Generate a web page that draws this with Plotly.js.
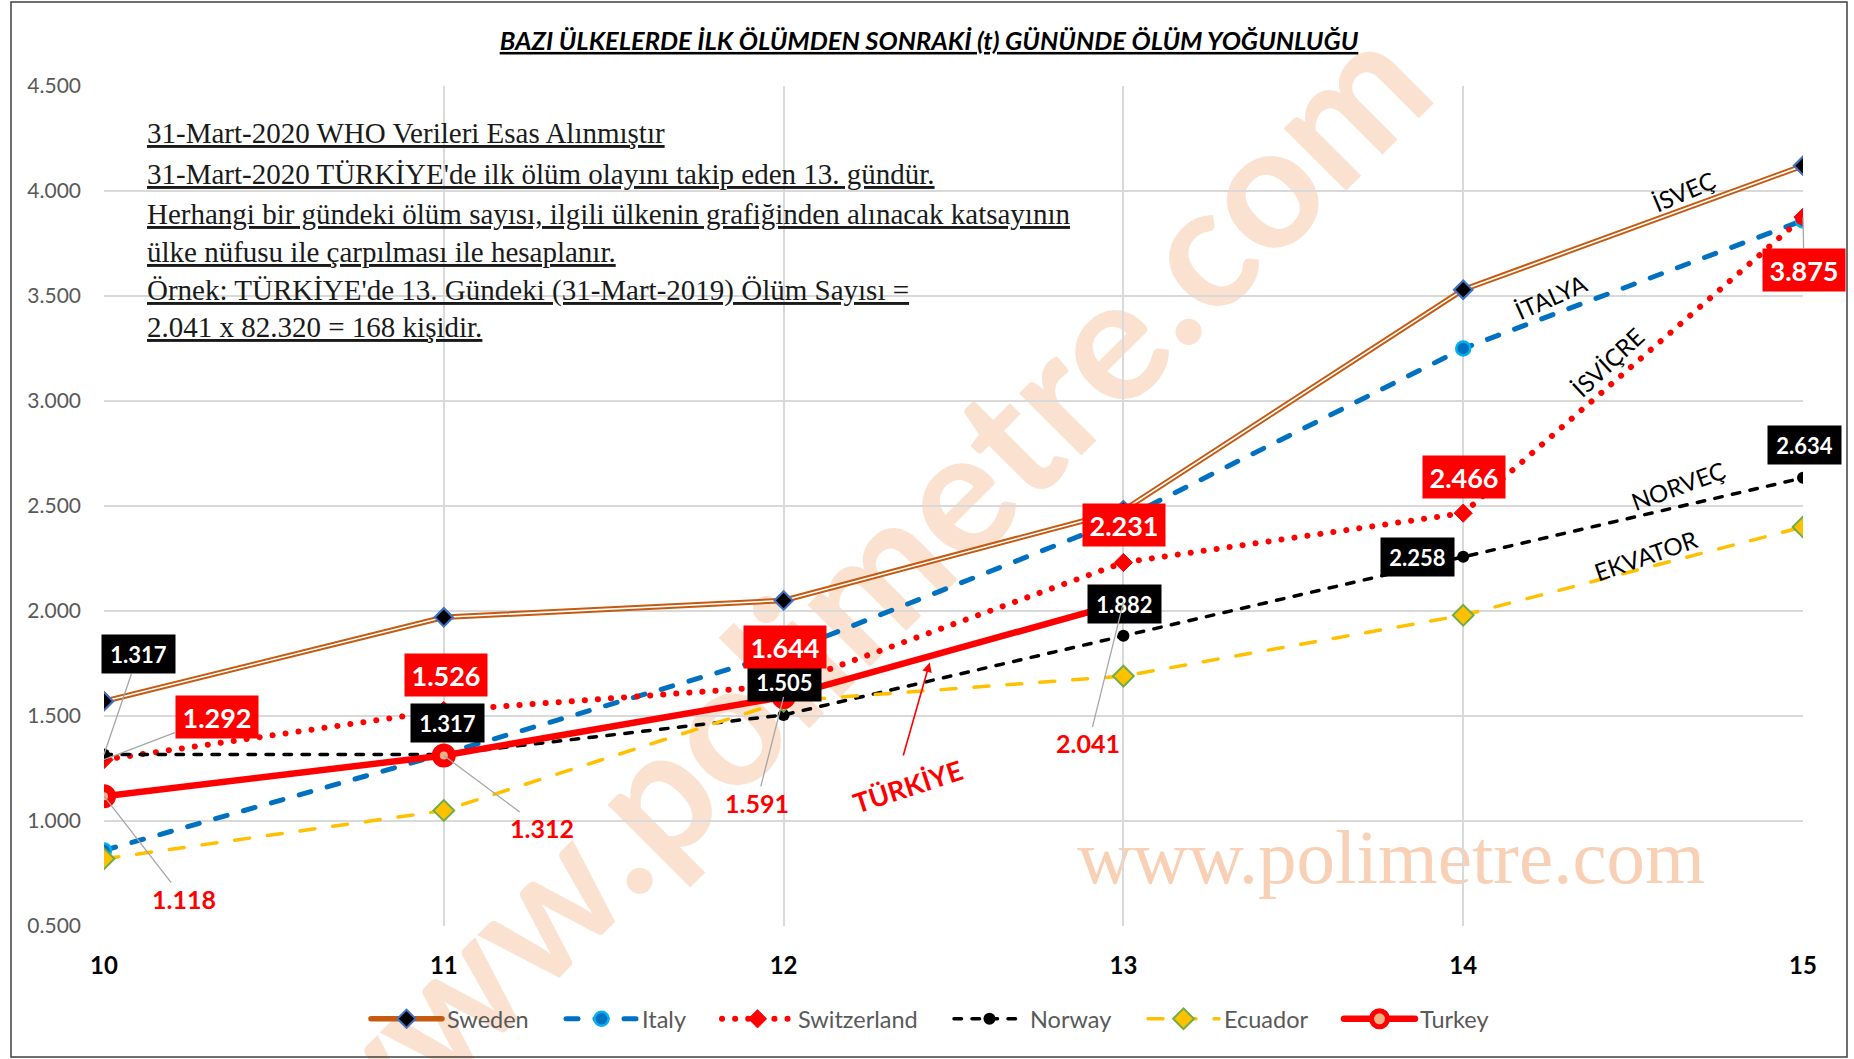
<!DOCTYPE html>
<html>
<head>
<meta charset="utf-8">
<script src="https://cdn.plot.ly/plotly-3.0.1.min.js"></script>
<style>
  html, body { margin:0; padding:0; background:#ffffff; }
  #wrap { position:relative; width:1854px; height:1059px; overflow:hidden; background:#ffffff; }
  .wm { position:absolute; white-space:nowrap; pointer-events:none; }
  #wmBig { left:845px; top:598px; transform:translate(-50%,-50%) rotate(-45deg);
           font-family:Lato, sans-serif; font-weight:700; font-size:172px; color:rgba(244,177,131,0.38); }
  #wmSmall { left:1391px; top:857px; transform:translate(-50%,-50%);
           font-family:'Liberation Serif', serif; font-size:77px; color:rgba(244,177,131,0.6); }
  #chart { position:absolute; left:0; top:0; width:1854px; height:1059px; }
  #chart .js-line { stroke-linecap: round; }
</style>
</head>
<body>
<div id="wrap">
  <div class="wm" id="wmBig">www.polimetre.com</div>
  <div class="wm" id="wmSmall">www.polimetre.com</div>
  <div id="chart"></div>
</div>
<script>
// ---------------- data ----------------
const days = [10, 11, 12, 13, 14, 15];
const xTickLabels = ['10', '11', '12', '13', '14', '15'];
const yTickValues = [0.5, 1.0, 1.5, 2.0, 2.5, 3.0, 3.5, 4.0, 4.5];
const yTickLabels = ['0.500', '1.000', '1.500', '2.000', '2.500', '3.000', '3.500', '4.000', '4.500'];

const sweden      = [1.57, 1.97, 2.05, 2.48, 3.53, 4.12];
const italy       = [0.86, 1.32, 1.80, 2.44, 3.25, 3.86];
const switzerland = [1.292, 1.526, 1.644, 2.231, 2.466, 3.875];
const norway      = [1.317, 1.317, 1.505, 1.882, 2.258, 2.634];
const ecuador     = [0.82, 1.05, 1.57, 1.69, 1.98, 2.40];
const turkeyDays  = [10, 11, 12, 13];
const turkey      = [1.118, 1.312, 1.591, 2.041];

const seriesNames = ['Sweden', 'Italy', 'Switzerland', 'Norway', 'Ecuador', 'Turkey'];

const noteLines = [
  "31-Mart-2020 WHO Verileri Esas Alınmıştır",
  "31-Mart-2020 TÜRKİYE'de ilk ölüm olayını takip eden 13. gündür.",
  "Herhangi bir gündeki ölüm sayısı, ilgili ülkenin grafiğinden alınacak katsayının",
  "ülke nüfusu ile çarpılması ile hesaplanır.",
  "Örnek: TÜRKİYE'de 13. Gündeki (31-Mart-2019) Ölüm Sayısı =",
  "2.041 x 82.320 = 168 kişidir."
];
const chartTitle = 'BAZI ÜLKELERDE İLK ÖLÜMDEN SONRAKİ (t) GÜNÜNDE ÖLÜM YOĞUNLUĞU';
const countryLabels = ['İSVEÇ', 'İTALYA', 'İSVİÇRE', 'NORVEÇ', 'EKVATOR'];
const turkeyLabel = 'TÜRKİYE';

// ---------------- layout helpers (positions / styles) ----------------
const PL = 104, PR = 1803, PT = 86, PB = 926;
const px2x = p => (p - PL) / (PR - PL);
const py2y = p => (PB - p) / (PB - PT);

// label offsets (pixels, from data point to label centre)
const norwayOff = [[34,-100],[4,-31],[1,-33],[1,-32],[-46,0],[1,-33]];
const norwayLeader = [true,false,false,false,false,false];
const swissOff = [[113,-43],[2,-36],[1,-39],[1,-37],[1,-36],[1,53]];
const swissLeader = [true,false,false,false,false,true];
const turkeyOff = [[80,103],[98,73],[-27,106],[-35,141]];

const noteLineY = [133, 174, 214, 252, 290, 327];
const countryPos = [[1683,191,-23],[1551,296,-24],[1607,362,-43],[1678,485,-20],[1645,555,-19]];
const legendWidths = [109, 70, 146, 108, 110, 75];

const LEADER = '#a6a6a6';
const FONT = 'Lato, "Open Sans", sans-serif';

// ---------------- traces ----------------
const traces = [
  { x: days, y: sweden, name: seriesNames[0], mode: 'lines+markers', legendwidth: legendWidths[0],
    line: { color: '#c55a11', width: 5.5 },
    marker: { symbol: 'diamond', size: 14, color: '#000000', line: { color: '#4472c4', width: 2 } } },
  { x: days, y: sweden, name: seriesNames[0], mode: 'lines', showlegend: false, hoverinfo: 'skip',
    line: { color: '#ffffff', width: 1.6 } },
  { x: days, y: sweden, name: seriesNames[0], mode: 'markers', showlegend: false,
    marker: { symbol: 'diamond', size: 14, color: '#000000', line: { color: '#4472c4', width: 2 } } },
  { x: days, y: italy, name: seriesNames[1], mode: 'lines+markers', legendwidth: legendWidths[1],
    line: { color: '#0070c0', width: 5, dash: '12px,17px' },
    marker: { symbol: 'circle', size: 14, color: '#0070c0', line: { color: '#00b0f0', width: 2.5 } } },
  { x: days, y: switzerland, name: seriesNames[2], mode: 'lines+markers', legendwidth: legendWidths[2],
    line: { color: '#ff0000', width: 6, dash: '0.1px,13px' },
    marker: { symbol: 'diamond', size: 14, color: '#ff0000', line: { color: '#ff0000', width: 1 } } },
  { x: days, y: norway, name: seriesNames[3], mode: 'lines+markers', legendwidth: legendWidths[3],
    line: { color: '#000000', width: 3.5, dash: '7.5px,10.5px' },
    marker: { symbol: 'circle', size: 12, color: '#000000' } },
  { x: days, y: ecuador, name: seriesNames[4], mode: 'lines+markers', legendwidth: legendWidths[4],
    line: { color: '#ffc000', width: 3.5, dash: '15px,18px' },
    marker: { symbol: 'diamond', size: 16, color: '#ffc000', line: { color: '#70ad47', width: 2 } } },
  { x: turkeyDays, y: turkey, name: seriesNames[5], mode: 'lines+markers', legendwidth: legendWidths[5],
    line: { color: '#ff0000', width: 6.5 },
    marker: { symbol: 'circle', size: 16, color: '#f4b183', line: { color: '#ff0000', width: 8 } } }
];

// ---------------- annotations ----------------
const annotations = [];

noteLines.forEach((t, i) => {
  annotations.push({ xref: 'paper', yref: 'paper', x: px2x(145), y: py2y(noteLineY[i]),
    xanchor: 'left', yanchor: 'middle', showarrow: false, text: t,
    font: { family: '"Liberation Serif", "Times New Roman", serif', size: 29, color: '#1a1a1a', lineposition: 'under' } });
});

function boxLabels(xs, ys, off, leader, bg, size, w, h) {
  xs.forEach((xv, i) => {
    annotations.push({ x: xv, y: ys[i], xref: 'x', yref: 'y', text: ys[i].toFixed(3),
      showarrow: true, arrowhead: 0, arrowwidth: 1.3, standoff: 0,
      arrowcolor: leader[i] ? LEADER : 'rgba(0,0,0,0)',
      ax: off[i][0], ay: off[i][1], bgcolor: bg, width: w, height: h, borderpad: 0,
      font: { family: FONT, size: size, color: '#ffffff', weight: 'bold' } });
  });
}
boxLabels(days, norway, norwayOff, norwayLeader, '#000000', 22, 73, 38);
boxLabels(days, switzerland, swissOff, swissLeader, '#ff0000', 27, 82, 42);

turkeyDays.forEach((xv, i) => {
  annotations.push({ x: xv, y: turkey[i], xref: 'x', yref: 'y', text: turkey[i].toFixed(3),
    showarrow: true, arrowhead: 0, arrowwidth: 1.3, standoff: 0, arrowcolor: LEADER,
    ax: turkeyOff[i][0], ay: turkeyOff[i][1],
    font: { family: FONT, size: 25, color: '#ff0000', weight: 'bold' } });
});

countryLabels.forEach((t, i) => {
  annotations.push({ xref: 'paper', yref: 'paper', x: px2x(countryPos[i][0]), y: py2y(countryPos[i][1]),
    xanchor: 'center', yanchor: 'middle', showarrow: false, text: t, textangle: countryPos[i][2],
    font: { family: FONT, size: 24, color: '#000000' } });
});

// TÜRKİYE label + arrow pointing at the Turkey line
annotations.push({ xref: 'paper', yref: 'paper', x: px2x(907), y: py2y(786), xanchor: 'center', yanchor: 'middle',
  showarrow: false, text: turkeyLabel, textangle: -18,
  font: { family: FONT, size: 27, color: '#ff0000', weight: 'bold' } });
const tipX = 12.43;
const tipY = turkey[2] + (turkey[3] - turkey[2]) * (tipX - turkeyDays[2]) - 0.03;
annotations.push({ x: tipX, y: tipY, xref: 'x', yref: 'y', text: ' ', showarrow: true,
  arrowhead: 2, arrowsize: 1.2, arrowwidth: 1.6, arrowcolor: '#ff0000', standoff: 0, ax: -29, ay: 102 });

// ---------------- layout ----------------
const layout = {
  width: 1854, height: 1059,
  margin: { l: PL, r: 1854 - PR, t: PT, b: 1059 - PB, pad: 0, autoexpand: false },
  paper_bgcolor: 'rgba(0,0,0,0)', plot_bgcolor: 'rgba(0,0,0,0)',
  font: { family: FONT },
  title: { text: chartTitle, xref: 'container', yref: 'container', x: 929 / 1854, xanchor: 'center',
    y: 1 - 41 / 1059, yanchor: 'middle',
    font: { family: FONT, size: 25.5, color: '#000000', weight: 'bold', style: 'italic', lineposition: 'under' } },
  xaxis: { range: [10, 15], tickvals: days, ticktext: xTickLabels, showgrid: true, gridcolor: '#d9d9d9', gridwidth: 2,
    zeroline: false, showline: false, ticks: '', ticklabelstandoff: 23, automargin: false,
    tickfont: { family: FONT, size: 24, color: '#000000', weight: 'bold' }, fixedrange: true },
  yaxis: { range: [0.5, 4.5], tickvals: yTickValues, ticktext: yTickLabels, showgrid: true, gridcolor: '#d9d9d9', gridwidth: 2,
    zeroline: false, showline: false, ticks: '', ticklabelstandoff: 22, automargin: false,
    tickfont: { family: FONT, size: 21, color: '#595959' }, fixedrange: true },
  showlegend: true,
  legend: { orientation: 'h', xref: 'paper', x: px2x(933), xanchor: 'center', yref: 'paper', y: py2y(1019), yanchor: 'middle',
    font: { family: FONT, size: 23.5, color: '#595959' }, bgcolor: 'rgba(0,0,0,0)', traceorder: 'normal', itemwidth: 71 },
  shapes: [
    { type: 'rect', xref: 'paper', yref: 'paper', x0: px2x(11), x1: px2x(1847), y0: py2y(1057), y1: py2y(2),
      line: { color: '#404040', width: 1.5 }, fillcolor: 'rgba(0,0,0,0)', layer: 'below' }
  ],
  annotations: annotations
};

Plotly.newPlot('chart', traces, layout, { displayModeBar: false, staticPlot: true });
</script>
</body>
</html>
